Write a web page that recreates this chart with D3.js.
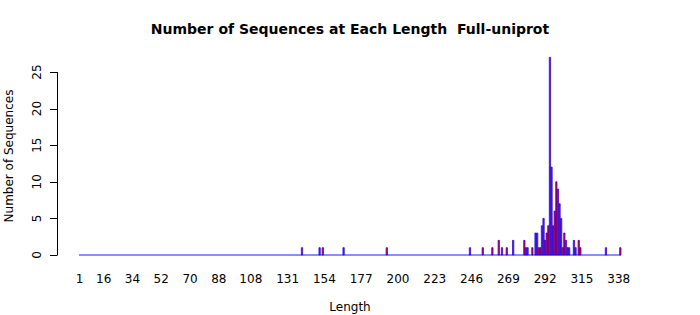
<!DOCTYPE html>
<html><head><meta charset="utf-8">
<script src="https://cdn.jsdelivr.net/npm/d3@7"></script>
<style>body{margin:0;background:#fff}svg{display:block}text{font-family:"DejaVu Sans",sans-serif;white-space:pre}</style>
</head><body><svg id="c" width="700" height="315"></svg>
<script>
const titleText = "Number of Sequences at Each Length  Full-uniprot";
const xTitle = "Length";
const yTitle = "Number of Sequences";
const minLength = 1, maxLength = 339;
const seqLengths = [140,151,153,166,193,245,253,259,263,265,268,272,279,280,281,284,286,287,288,289,290,291,292,293,294,295,296,297,298,299,300,301,302,303,304,305,306,307,310,311,313,314,330,339];
const seqCounts  = [1,1,1,1,1,1,1,1,2,1,1,2,2,1,1,1,3,3,1,1,4,5,2,3,4,27,12,4,6,10,9,7,5,1,3,2,1,1,2,1,2,1,1,1];
const xTickLabels = [1,16,34,52,70,88,108,131,154,177,200,223,246,269,292,315,338];
const yTicks = [0,5,10,15,20,25];

const countMap = new Map(seqLengths.map((l,i)=>[l,seqCounts[i]]));
const categories = d3.range(minLength, maxLength+1);
const data = categories.map(l=>({len:l, n: countMap.get(l)||0}));

const svg = d3.select("#c");
const x = d3.scaleBand().domain(categories).range([79,621]).paddingInner(0.2/1.2).paddingOuter(0);
const y = d3.scaleLinear().domain([0,25]).range([255,72]);

svg.append("line").attr("x1",x(minLength)).attr("x2",x(maxLength)+x.bandwidth())
  .attr("y1",y(0)).attr("y2",y(0)).attr("stroke","#1a1aff").attr("stroke-width",1);

svg.append("g").selectAll("path").data(data.filter(d=>d.n>0)).join("path")
  .attr("d", d=>{const x0=x(d.len), x1=x0+x.bandwidth(), y0=y(0), y1=y(d.n);
    return `M${x0},${y0}H${x1}V${y1}H${x0}Z`;})
  .attr("fill","red").attr("stroke","blue").attr("stroke-width",0.7);

// y axis
const ya = svg.append("g");
ya.append("line").attr("x1",57.5).attr("x2",57.5).attr("y1",y(25)).attr("y2",y(0)).attr("stroke","#000");
ya.selectAll("line.t").data(yTicks).join("line").attr("class","t")
  .attr("x1",50).attr("x2",57.5).attr("y1",d=>Math.round(y(d))+0.5).attr("y2",d=>Math.round(y(d))+0.5).attr("stroke","#000");
ya.selectAll("text").data(yTicks).join("text")
  .attr("transform",d=>`translate(41,${y(d)}) rotate(-90)`)
  .attr("text-anchor","middle").attr("font-size",12).attr("fill","#000").text(d=>d);

// x labels
svg.append("g").selectAll("text").data(xTickLabels).join("text")
  .attr("x",d=>x(d)+x.bandwidth()/2).attr("y",283)
  .attr("text-anchor","middle").attr("font-size",12).attr("fill","#000").text(d=>d);

svg.append("text").attr("x",350).attr("y",311).attr("text-anchor","middle").attr("font-size",12).text(xTitle);
svg.append("text").attr("transform","translate(13,156) rotate(-90)").attr("text-anchor","middle").attr("font-size",12).text(yTitle);
svg.append("text").attr("x",350).attr("y",34).attr("text-anchor","middle").attr("font-size",14).attr("font-weight","bold").text(titleText);
</script></body></html>
